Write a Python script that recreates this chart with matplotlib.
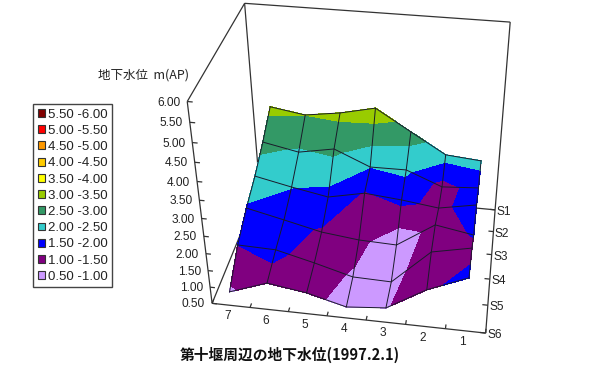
import numpy as np
import matplotlib
matplotlib.use('Agg')
import matplotlib.pyplot as plt
from matplotlib.patches import Patch

# water level at each grid point, rows S1..S6, columns 7..1
levels_z = [0.5, 1.0, 1.5, 2.0, 2.5, 3.0, 3.5, 4.0, 4.5, 5.0, 5.5, 6.0]
band_colors = ['#CC99FF', '#800080', '#0000FF', '#33CCCC', '#339966', '#99CC00',
               '#FFFF00', '#FFCC00', '#FF9900', '#FF0000', '#800000']
band_labels = ['0.50 -1.00', '1.00 -1.50', '1.50 -2.00', '2.00 -2.50', '2.50 -3.00', '3.00 -3.50',
               '3.50 -4.00', '4.00 -4.50', '4.50 -5.00', '5.00 -5.50', '5.50 -6.00']
z_ticks = [0.5, 1.0, 1.5, 2.0, 2.5, 3.0, 3.5, 4.0, 4.5, 5.0, 5.5, 6.0]
x_labels = ['7', '6', '5', '4', '3', '2', '1']
s_labels = ['S1', 'S2', 'S3', 'S4', 'S5', 'S6']

height = np.array([
    [3.12, 2.96, 3.11, 3.34, 2.72, 2.11, 2.02],
    [2.64, 2.43, 2.62, 2.17, 2.18, 1.76, 1.83],
    [2.24, 2.01, 1.81, 2.03, 1.93, 1.79, 1.99],
    [1.95, 1.70, 1.44, 1.31, 1.27, 1.99, 1.80],
    [1.56, 1.53, 1.25, 0.94, 0.91, 1.93, 2.16],
    [0.92, 1.31, 1.14, 0.84, 0.94, 1.61, 2.08]])

# colour bands read separately, the picture's bands don't quite agree with the heights
band_value = np.array([
    [3.12, 3.00, 3.11, 3.34, 2.72, 2.20, 2.15],
    [2.64, 2.43, 2.62, 2.00, 2.10, 1.30, 1.70],
    [2.24, 2.01, 1.81, 1.45, 1.62, 1.35, 1.75],
    [1.95, 1.70, 1.44, 1.15, 0.60, 1.20, 1.55],
    [1.50, 1.62, 1.25, 0.94, 0.80, 1.30, 1.30],
    [0.92, 1.31, 1.14, 0.84, 0.94, 1.40, 1.65]])

plt.rcParams['font.family'] = ['Liberation Sans', 'Noto Sans CJK JP']

# --- perspective of the box, fitted to its corners on the picture ---
corners = np.array([[0, 0, 0.5, 212, 303], [1, 0, 0.5, 486, 333], [1, 1, 0.5, 495, 210],
                    [0, 1, 0.5, 259.5, 188], [0, 0, 6, 187, 102], [0, 1, 6, 245, 3],
                    [1, 1, 6, 510, 22]], float)
rows, rhs = [], []
for u, v, w, px, py in corners:
    rows.append([u, v, w, 1, 0, 0, 0, 0, -px * u, -px * v, -px * w])
    rhs.append(px)
    rows.append([0, 0, 0, 0, u, v, w, 1, -py * u, -py * v, -py * w])
    rhs.append(py)
P = np.append(np.linalg.lstsq(np.array(rows), np.array(rhs), rcond=None)[0], 1).reshape(3, 4)


def project(u, v, w):
    u, v, w = np.broadcast_arrays(u, v, w)
    d = P[2, 0] * u + P[2, 1] * v + P[2, 2] * w + P[2, 3]
    return ((P[0, 0] * u + P[0, 1] * v + P[0, 2] * w + P[0, 3]) / d,
            (P[1, 0] * u + P[1, 1] * v + P[1, 2] * w + P[1, 3]) / d)


fig = plt.figure(figsize=(6, 3.74), dpi=100)
ax = fig.add_axes([0, 0, 1, 1])
ax.set_xlim(0, 600)
ax.set_ylim(374, 0)
ax.axis('off')


def edge(a, b, color='#333333', lw=0.9):
    x, y = project(*np.array([a, b]).T)
    ax.plot(x, y, color=color, lw=lw, solid_capstyle='butt', zorder=1)


# box
edge((0, 0, .5), (1, 0, .5))
edge((1, 0, .5), (1, 1, .5))
edge((0, 0, .5), (0, 1, .5))
edge((0, 1, .5), (1, 1, .5))
edge((0, 0, .5), (0, 0, 6))
edge((0, 1, .5), (0, 1, 6))
edge((1, 1, .5), (1, 1, 6))
edge((0, 0, 6), (0, 1, 6))
edge((0, 1, 6), (1, 1, 6))

# ticks and labels
for t in z_ticks:
    edge((0, 0, t), (0.018, 0, t))
    x, y = project(0, 0, t)
    ax.text(x - 7, y + 1, f'{t:.2f}', ha='right', va='center', fontsize=8.6, color='#222222')
for j in range(8):
    edge((j / 7, 0, .5), (j / 7, 0.03, .5))
for j, lab in enumerate(x_labels):
    x, y = project((j + .5) / 7, 0, .5)
    ax.text(x - 3, y + 11, lab, ha='center', va='center', fontsize=8.6, color='#222222')
for i, lab in enumerate(s_labels):
    v = 1 - i / 5
    edge((0.98, v, .5), (1, v, .5))
    x, y = project(1, v, .5)
    ax.text(x + 1.5, y + 2, lab, ha='left', va='center', fontsize=8.6, color='#222222')

# surface
uu, vv = np.meshgrid((np.arange(7) + .5) / 7, 1 - np.arange(6) / 5)
X, Y = project(uu, vv, height)
cs = ax.contourf(X, Y, band_value, levels=levels_z, colors=band_colors, zorder=2)
cs.set_edgecolor('face')
cs.set_linewidth(0.3)
ax.plot(X, Y, color='#1a1a2a', lw=0.7, zorder=3)
ax.plot(X.T, Y.T, color='#1a1a2a', lw=0.7, zorder=3)

# legend, top band first
handles = [Patch(facecolor=c, edgecolor='#333333', lw=0.8, label=l)
           for c, l in zip(band_colors[::-1], band_labels[::-1])]
leg = ax.legend(handles=handles, loc='upper left', bbox_to_anchor=(33, 104), bbox_transform=ax.transData,
                borderaxespad=0, fontsize=9.5, handlelength=0.55, handleheight=0.55, handletextpad=0.2,
                labelspacing=0.32, borderpad=0.35, fancybox=False, framealpha=1, edgecolor='#444444',
                labelcolor='#222222')
leg.get_frame().set_linewidth(1)

ax.text(143.5, 75, '地下水位  m(AP)', ha='center', va='center', fontsize=9, color='#222222',
        family=['Noto Sans CJK JP', 'Liberation Sans'])
ax.text(290, 355, '第十堰周辺の地下水位(1997.2.1)', ha='center', va='center', fontsize=10.6,
        fontweight='bold', color='#111111', family=['Noto Sans CJK JP', 'Liberation Sans'])

fig.savefig('out.png', dpi=100)
